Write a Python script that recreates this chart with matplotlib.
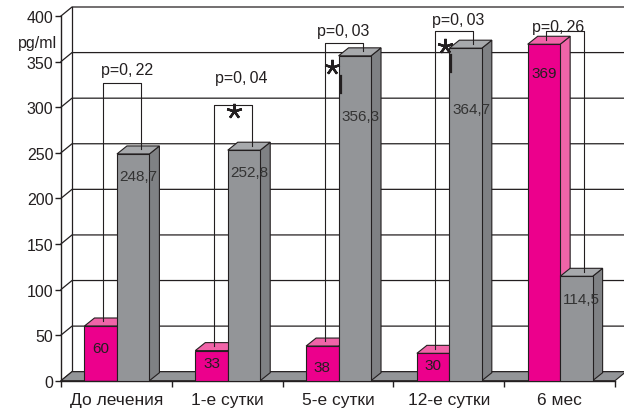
import matplotlib
matplotlib.use('Agg')
import matplotlib.pyplot as plt
from matplotlib.patches import Polygon
from matplotlib.transforms import IdentityTransform
import numpy as np

plt.rcParams['font.family'] = ['Liberation Sans', 'DejaVu Sans']

# данные
categories = ['До лечения', '1-е сутки', '5-е сутки', '12-е сутки', '6 мес']
pink_vals = [60, 33, 38, 30, 369]
grey_vals = [248.7, 252.8, 356.3, 364.7, 114.5]
p_values = ['0,\u200922', '0,\u200904', '0,\u200903', '0,\u200903', '0,\u200926']
significant = [False, True, True, True, False]

# раскладка подписей (в единицах осей)
bracket_top = [327, 302, 370, 383, 383]
p_text_x = [0.595, 0.628, 0.55, 0.586, 0.486]
p_text_y = [341, 333, 384, 396, 389]
pink_label_y = [36, 19, 15, 17, 338]
grey_label_y = [225, 229, 290, 298, 90]
star_x = [0.559, 0.45, 0.468]
star_y = [296, 344, 367]

PINK, PINK_LIGHT = '#EC008C', '#F064A8'
GREY, GREY_DARK, GREY_LIGHT = '#939598', '#7F8184', '#A7A9AC'
EDGE = '#231F20'
BX, BY = 10, 8      # глубина столбиков, px
WX, WY = 11, 9      # глубина стенок, px
BAR_W = 0.293
PINK_X = 0.212
GREY_X = PINK_X + BAR_W

fig = plt.figure(figsize=(6.24, 4.14), dpi=100)
ax = fig.add_axes([61 / 624, 32.3 / 414, 554 / 624, 364.7 / 414])
ax.set_xlim(0, 5)
ax.set_ylim(0, 400)
ax.set_autoscale_on(False)
ident = IdentityTransform()


def disp(x, y):
    return ax.transData.transform((x, y))


def poly(verts, fc, z):
    ax.add_patch(Polygon(verts, closed=True, facecolor=fc, edgecolor=EDGE,
                         linewidth=0.8, transform=ident, clip_on=False, zorder=z))


# стенки и сетка
yticks = np.arange(0, 401, 50)
for v in yticks:
    x0, y0 = disp(0, v)
    ax.plot([x0, x0 + WX, 624], [y0, y0 + WY, y0 + WY], color=EDGE, lw=0.9,
            transform=ident, clip_on=False, zorder=0.5)
x0, y0 = disp(0, 0)
x1, y1 = disp(0, 400)
ax.plot([x0 + WX, x1 + WX], [y0 + WY, y1 + WY], color=EDGE, lw=0.9,
        transform=ident, clip_on=False, zorder=0.5)
xr, _ = disp(5, 0)
poly([(x0, y0), (xr, y0), (xr + WX, y0 + WY), (x0 + WX, y0 + WY)], GREY, 0.8)


def bar3d(x, h, front, top, side, z):
    ax.bar(x, h, width=BAR_W, align='edge', color=front, edgecolor=EDGE,
           linewidth=0.8, zorder=z + 0.2)
    (xl, yb), (xr, yt) = ax.transData.transform([(x, 0), (x + BAR_W, h)])
    poly([(xr, yb), (xr + BX, yb + BY), (xr + BX, yt + BY), (xr, yt)], side, z)
    poly([(xl, yt), (xr, yt), (xr + BX, yt + BY), (xl + BX, yt + BY)], top, z + 0.1)


for i in range(len(categories)):
    bar3d(i + PINK_X, pink_vals[i], PINK, PINK_LIGHT, PINK_LIGHT, 2 + i)
    bar3d(i + GREY_X, grey_vals[i], GREY, GREY_LIGHT, GREY_DARK, 2.5 + i)

    ax.text(i + PINK_X + BAR_W / 2, pink_label_y[i], f'{pink_vals[i]:g}'.replace('.', ','),
            ha='center', va='center', fontsize=11, color=EDGE, zorder=9)
    ax.text(i + GREY_X + 0.025, grey_label_y[i], f'{grey_vals[i]:g}'.replace('.', ','),
            ha='left', va='center', fontsize=11, color='#333333', zorder=9)

    # скобки с p
    lx, rx = i + PINK_X + BAR_W / 2 + 0.02, i + GREY_X + BAR_W / 2 + 0.07
    ax.plot([lx, lx, rx, rx], [pink_vals[i] + 5, bracket_top[i], bracket_top[i], grey_vals[i] + 5],
            color=EDGE, lw=0.8, zorder=10, clip_on=False)
    ax.text(i + p_text_x[i], p_text_y[i], f'p={p_values[i]}', ha='center', va='center',
            fontsize=11.5, color=EDGE, zorder=11, clip_on=False)

sig = [i for i, s in enumerate(significant) if s]
for k, i in enumerate(sig):
    ax.plot(i + star_x[k], star_y[k], marker=(5, 2, 0), ms=11, mew=1.7,
            color=EDGE, zorder=12, clip_on=False)
for k, i in enumerate(sig[1:], start=1):
    ax.plot([i + 0.523] * 2, [star_y[k] - 10, star_y[k] - 28],
            color=EDGE, lw=1.6, zorder=12)

# оси
for s in ('top', 'right'):
    ax.spines[s].set_visible(False)
for s in ('left', 'bottom'):
    ax.spines[s].set_color(EDGE)
    ax.spines[s].set_linewidth(1.0)
ax.set_facecolor('none')
ax.set_yticks(yticks)
ax.tick_params(axis='y', length=4.5, width=1, pad=1, labelsize=11.5, color=EDGE, labelcolor=EDGE)
ax.set_xticks(range(6))
ax.set_xticklabels([])
ax.tick_params(axis='x', which='major', length=4, width=1, color=EDGE)
ax.set_xticks(np.arange(5) + 0.5, categories, minor=True)
ax.tick_params(axis='x', which='minor', length=0, pad=8, labelsize=12.5, labelcolor=EDGE)
ax.annotate('pg/ml', xy=(0, 371), xytext=(-3, 0), textcoords='offset points',
            ha='right', va='center', fontsize=11.5, color=EDGE, annotation_clip=False)

fig.savefig('out.png', dpi=100)
